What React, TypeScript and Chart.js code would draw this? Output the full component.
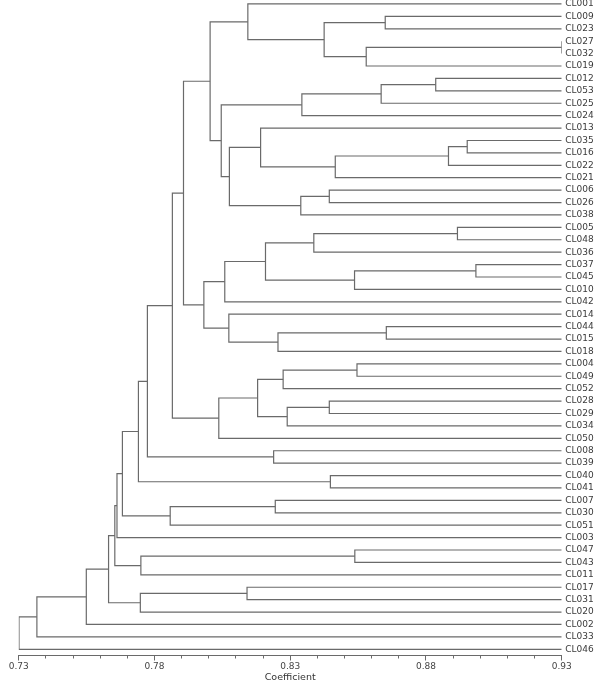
import React, { useEffect, useRef } from "react";
import { Chart, registerables } from "chart.js";

Chart.register(...registerables);

// Leaves, top to bottom
const leafLabels = [
  "CL001", "CL009", "CL023", "CL027", "CL032", "CL019", "CL012", "CL053", "CL025", "CL024",
  "CL013", "CL035", "CL016", "CL022", "CL021", "CL006", "CL026", "CL038", "CL005", "CL048",
  "CL036", "CL037", "CL045", "CL010", "CL042", "CL014", "CL044", "CL015", "CL018", "CL004",
  "CL049", "CL052", "CL028", "CL029", "CL034", "CL050", "CL008", "CL039", "CL040", "CL041",
  "CL007", "CL030", "CL051", "CL003", "CL047", "CL043", "CL011", "CL017", "CL031", "CL020",
  "CL002", "CL033", "CL046",
];

// Merge table: node ids 0..52 are leaves, merge k creates node 53 + k
const mergeLeft = [
  3, 53, 1, 55, 0, 6, 58, 59, 11, 61,
  62, 10, 15, 65, 64, 60, 57, 18, 70, 21,
  72, 71, 74, 26, 76, 25, 75, 69, 29, 81,
  32, 83, 82, 85, 80, 36, 87, 38, 89, 40,
  92, 91, 94, 44, 96, 95, 47, 99, 98, 101,
  102, 103,
];
const mergeRight = [
  4, 5, 2, 54, 56, 7, 8, 9, 12, 13,
  14, 63, 16, 17, 66, 67, 68, 19, 20, 22,
  23, 73, 24, 27, 28, 77, 78, 79, 30, 31,
  33, 34, 84, 35, 86, 37, 88, 39, 90, 41,
  42, 93, 43, 45, 46, 97, 48, 49, 100, 50,
  51, 52,
];
const mergeCoef = [
  0.93, 0.858, 0.865, 0.8425, 0.8144, 0.8836, 0.8635, 0.8343, 0.8952, 0.8883,
  0.8466, 0.8191, 0.8444, 0.8339, 0.8076, 0.8046, 0.8005, 0.8916, 0.8387, 0.8984,
  0.8537, 0.8209, 0.8059, 0.8654, 0.8255, 0.8074, 0.7982, 0.7907, 0.8546, 0.8274,
  0.8444, 0.8289, 0.818, 0.8037, 0.7866, 0.8239, 0.7774, 0.8448, 0.7741, 0.8245,
  0.7858, 0.7682, 0.7662, 0.8538, 0.775, 0.7654, 0.8141, 0.7748, 0.7631, 0.7549,
  0.7367, 0.7301,
];

const xMajorTicks = [0.73, 0.78, 0.83, 0.88, 0.93];
const xMinorTicks = [
  0.74, 0.75, 0.76, 0.77, 0.79, 0.8, 0.81, 0.82,
  0.84, 0.85, 0.86, 0.87, 0.89, 0.9, 0.91, 0.92,
];
const xTickLabels = ["0.73", "0.78", "0.83", "0.88", "0.93"];
const xMin = 0.73;
const xMax = 0.93;
const leafCoef = 0.93;

const FONT = "'DejaVu Sans', Verdana, sans-serif";
const LINE_COLOR = "#6a6a6a";

function buildDatasets() {
  const yPos: number[] = leafLabels.map((_, i) => i);
  const xPos: number[] = leafLabels.map(() => leafCoef);
  const datasets: any[] = [];
  for (let k = 0; k < mergeCoef.length; k++) {
    const a = mergeLeft[k];
    const b = mergeRight[k];
    const h = mergeCoef[k];
    datasets.push({
      data: [
        { x: xPos[a], y: yPos[a] },
        { x: h, y: yPos[a] },
        { x: h, y: yPos[b] },
        { x: xPos[b], y: yPos[b] },
      ],
      borderColor: LINE_COLOR,
      borderWidth: 1.2,
      pointRadius: 0,
      fill: false,
      tension: 0,
    });
    yPos.push((yPos[a] + yPos[b]) / 2);
    xPos.push(h);
  }
  return datasets;
}

export default function App() {
  const canvasRef = useRef<HTMLCanvasElement | null>(null);

  useEffect(() => {
    if (!canvasRef.current) return;
    const chart = new Chart(canvasRef.current, {
      type: "line",
      data: { datasets: buildDatasets() },
      options: {
        responsive: false,
        animation: false,
        layout: { padding: { left: 18.7, right: 0, top: 0, bottom: 0 } },
        plugins: { legend: { display: false }, tooltip: { enabled: false } },
        scales: {
          xMinor: {
            type: "linear",
            position: "bottom",
            weight: -1,
            min: xMin,
            max: xMax,
            afterBuildTicks: (s: any) => {
              s.ticks = xMinorTicks.map((v) => ({ value: v }));
            },
            afterFit: (s: any) => {
              s.height = 0;
              s.paddingLeft = 0;
              s.paddingRight = 0;
            },
            ticks: { display: false },
            grid: {
              display: true,
              drawOnChartArea: false,
              drawTicks: true,
              tickLength: 3,
              color: LINE_COLOR,
              lineWidth: 1,
            },
            border: { display: false },
          },
          x: {
            type: "linear",
            position: "bottom",
            weight: 0,
            min: xMin,
            max: xMax,
            afterBuildTicks: (s: any) => {
              s.ticks = xMajorTicks.map((v) => ({ value: v }));
            },
            afterFit: (s: any) => {
              s.height = 31.5;
              s.paddingLeft = 0;
              s.paddingRight = 0;
            },
            ticks: {
              autoSkip: false,
              maxRotation: 0,
              padding: 0.5,
              color: "#444",
              font: { family: FONT, size: 9 },
              callback: (v: any) => {
                const lbl = xTickLabels.find((t) => Math.abs(parseFloat(t) - Number(v)) < 1e-6);
                return lbl ?? "";
              },
            },
            grid: {
              display: true,
              drawOnChartArea: false,
              drawTicks: true,
              tickLength: 5,
              color: LINE_COLOR,
              lineWidth: 1,
            },
            border: { display: true, color: LINE_COLOR, width: 1 },
            title: {
              display: true,
              text: "Coefficient",
              color: "#333",
              font: { family: FONT, size: 9.5 },
              padding: { top: 0, bottom: 4 },
            },
          },
          y: {
            type: "linear",
            position: "right",
            reverse: true,
            min: -0.32,
            max: 52.5,
            afterBuildTicks: (s: any) => {
              s.ticks = leafLabels.map((_, i) => ({ value: i }));
            },
            afterFit: (s: any) => {
              s.width = 35.3;
              s.paddingTop = 0;
              s.paddingBottom = 0;
            },
            ticks: {
              autoSkip: false,
              padding: 3.5,
              color: "#3a3a3a",
              font: { family: FONT, size: 9 },
              callback: (v: any) => leafLabels[Math.round(Number(v))] ?? "",
            },
            grid: { display: false, drawTicks: false, tickLength: 0 },
            border: { display: false },
          },
        },
      } as any,
    });
    return () => chart.destroy();
  }, []);

  return (
    <div style={{ position: "absolute", left: 0, top: 0, width: 597, height: 687, background: "#fff" }}>
      <canvas ref={canvasRef} width={597} height={687} style={{ display: "block" }} />
    </div>
  );
}
